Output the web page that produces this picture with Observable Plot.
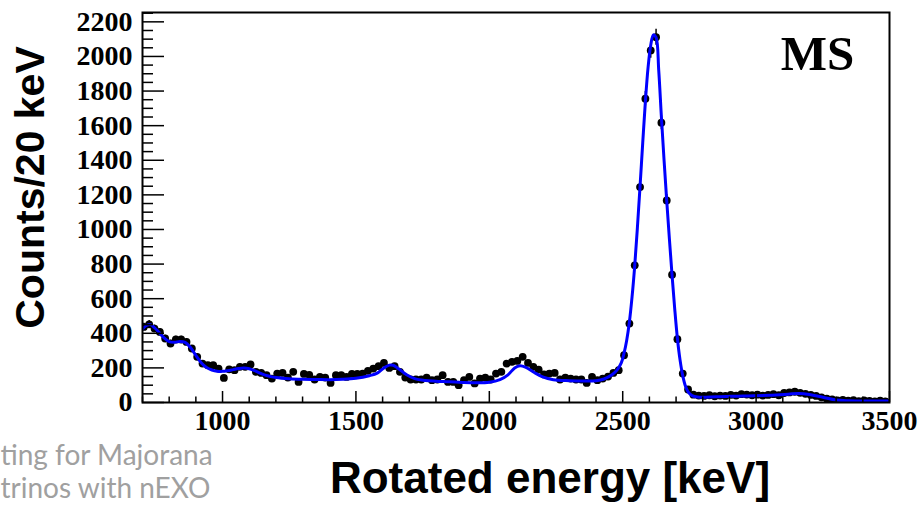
<!DOCTYPE html>
<html><head><meta charset="utf-8">
<script src="https://cdn.jsdelivr.net/npm/d3@7"></script>
<script src="https://cdn.jsdelivr.net/npm/@observablehq/plot@0.6"></script>
<style>html,body{margin:0;padding:0;background:#fff;overflow:hidden;}</style>
</head><body><div id="chart"></div>
<script>
const energies = [705,725,745,765,785,805,825,845,865,885,905,925,945,965,985,1005,1025,1045,1065,1085,1105,1125,1145,1165,1185,1205,1225,1245,1265,
1285,1305,1325,1345,1365,1385,1405,1425,1445,1465,1485,1505,1525,1545,1565,1585,1605,1625,1645,1665,1685,1705,1725,1745,1765,1785,1805,1825,1845,1865,
1885,1905,1925,1945,1965,1985,2005,2025,2045,2065,2085,2105,2125,2145,2165,2185,2205,2225,2245,2265,2285,2305,2325,2345,2365,2385,2405,2425,2445,2465,
2485,2505,2525,2545,2565,2585,2605,2625,2645,2665,2685,2705,2725,2745,2765,
2785,2805,2825,2845,2865,2885,2905,2925,2945,2965,2985,3005,3025,3045,3065,3085,3105,3125,3145,3165,3185,3205,3225,3245,3265,3285,3305,3325,3345,3365,3385,3405,3425,3445,3465,3485];
const counts = [437,452,427,408,370,341,364,364,350,312,264,225,216,216,196,142,192,187,206,206,220,177,171,158,138,167,171,144,177,
119,165,160,133,148,144,113,158,158,148,165,165,167,183,196,210,229,200,210,177,144,133,133,133,144,129,133,158,119,119,
100,129,148,110,138,144,133,167,177,225,235,240,264,229,206,190,162,167,171,133,144,138,133,133,113,148,129,138,150,171,
187,273,456,793,1245,1756,2035,2111,1617,1168,739,366,167,75,45,
40,38,42,36,40,38,44,40,48,46,42,45,40,44,48,42,55,58,62,56,50,44,38,30,22,18,12,15,10,14,8,12,9,6,10,7];
const fitEnergies = [700,715,730,745,760,780,800,820,840,860,880,900,920,940,960,980,1000,1020,1040,1060,1080,1100,1120,1140,1160,1180,1200,1250,1300,1350,1400,1450,1500,1550,1580,1605,1625,1640,1660,1690,1720,1760,1800,1850,1900,1950,2000,2040,2070,2095,2115,2135,2170,2200,2240,2300,2360,2400,2430,2460,2480,
2495,2505,2515,2525,2535,2545,2555,2565,2575,2585,2595,2605,2615,2625,2635,2645,2655,2665,2675,2685,2695,2705,2715,2725,2735,2745,2760,2780,2850,2950,3050,3120,3160,3200,3250,3300,3350,3500];
const fitCounts = [425,445,450,432,408,375,352,348,353,348,318,272,230,202,188,181,180,184,190,196,199,195,184,170,158,150,144,137,134,133,132,134,140,155,170,200,216,215,195,160,138,127,123,120,116,114,117,132,160,200,213,205,172,148,132,126,124,126,136,160,190,
230,285,360,465,610,790,1010,1250,1500,1740,1935,2065,2125,2110,1920,1650,1400,1165,945,735,540,370,245,155,95,62,40,32,33,38,42,48,52,46,30,14,10,8];
const xTickValues = [1000,1500,2000,2500,3000,3500];
const yTickValues = [0,200,400,600,800,1000,1200,1400,1600,1800,2000,2200];
const xMinorTicks = d3.range(700, 3501, 100).filter(v => !xTickValues.includes(v));
const yMinorTicks = d3.range(0, 2251, 50).filter(v => !yTickValues.includes(v));
const xTitle = "Rotated energy [keV]";
const yTitle = "Counts/20 keV";
const panelLabel = "MS";
const footerLines = ["ting for Majorana", "trinos with nEXO"];

const data = energies.map((e, i) => ({e, v: counts[i]}));
const fit = fitEnergies.map((e, i) => ({e, v: fitCounts[i]}));

const tickFont = {fontFamily: "Liberation Serif", fontWeight: "bold", fontSize: 28, fill: "black"};

const chart = Plot.plot({
  width: 923, height: 505,
  marginLeft: 142, marginRight: 34, marginTop: 12, marginBottom: 103,
  style: {background: "white", overflow: "visible"},
  x: {domain: [700, 3500], label: null},
  y: {domain: [0, 2254], label: null},
  marks: [
    Plot.ruleX(data, {x: "e", y1: d => d.v - Math.sqrt(d.v), y2: d => d.v + Math.sqrt(d.v), stroke: "black", strokeWidth: 1.5, clip: true}),
    Plot.dot(data, {x: "e", y: "v", r: 3.9, fill: "black", stroke: "none", clip: true}),
    Plot.line(fit, {x: "e", y: "v", stroke: "#0000ff", strokeWidth: 3, curve: "catmull-rom", clip: true}),
    Plot.axisX(xMinorTicks, {tickSize: -5.5, tickFormat: () => "", stroke: "black", strokeWidth: 1.5, label: null}),
    Plot.axisX(xTickValues, {tickSize: -11, tickPadding: 19, tickFormat: d => String(d), stroke: "black", strokeWidth: 1.5, label: null, ...tickFont}),
    Plot.axisY(yMinorTicks, {tickSize: -11, tickFormat: () => "", stroke: "black", strokeWidth: 1.5, label: null}),
    Plot.axisY(yTickValues, {tickSize: -22, tickPadding: 32, tickFormat: d => String(d), stroke: "black", strokeWidth: 1.5, label: null, ...tickFont}),
    Plot.frame({stroke: "black", strokeWidth: 2}),
    Plot.text([panelLabel], {frameAnchor: "top-right", dx: -72, dy: 57, lineAnchor: "bottom", textAnchor: "middle", fontFamily: "Liberation Serif", fontWeight: "bold", fontSize: 49, fill: "black"}),
    Plot.text([xTitle], {frameAnchor: "bottom", dx: 34, dy: 90, lineAnchor: "bottom", textAnchor: "middle", fontFamily: "Liberation Sans", fontWeight: "bold", fontSize: 44, fill: "black"}),
    Plot.text([yTitle], {frameAnchor: "left", dx: -112, dy: -20, rotate: -90, textAnchor: "middle", lineAnchor: "middle", fontFamily: "Liberation Sans", fontWeight: "bold", fontSize: 41, fill: "black"}),
    Plot.text([footerLines[0]], {frameAnchor: "bottom-left", dx: -142, dy: 62, lineAnchor: "bottom", textAnchor: "start", fontFamily: "Lato", fontSize: 28, fill: "#a0a0a0"}),
    Plot.text([footerLines[1]], {frameAnchor: "bottom-left", dx: -142, dy: 95, lineAnchor: "bottom", textAnchor: "start", fontFamily: "Lato", fontSize: 28, fill: "#a0a0a0"})
  ]
});
document.getElementById("chart").append(chart);
</script>
</body></html>
